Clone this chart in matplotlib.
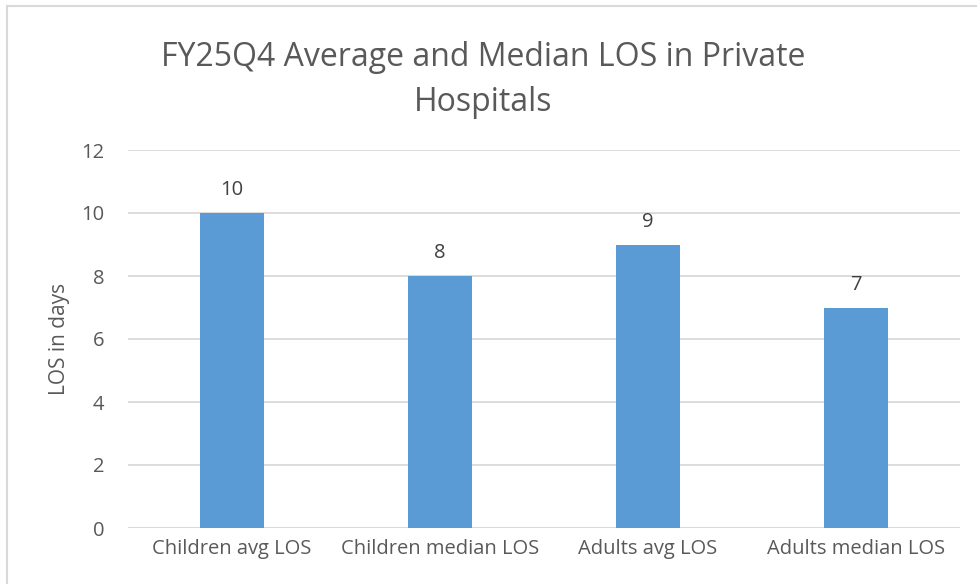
import matplotlib
matplotlib.use("Agg")
import matplotlib.pyplot as plt
from matplotlib.lines import Line2D

categories = ["Children avg LOS", "Children median LOS", "Adults avg LOS", "Adults median LOS"]
values = [10, 8, 9, 7]
yticks = [0, 2, 4, 6, 8, 10, 12]

plt.rcParams['font.family'] = ['Open Sans', 'DejaVu Sans']
txt = '#595959'
grid = '#D9D9D9'

fig = plt.figure(figsize=(9.77, 5.84), dpi=100)
ax = fig.add_axes([128/977, 1-528/584, (960-128)/977, (528-150)/584])

x = list(range(len(categories)))
bars = ax.bar(x, values, width=0.31, color='#5B9BD5', zorder=3)
for xi, v in zip(x, values):
    ax.text(xi, v + 0.4, str(v), ha='center', va='bottom', fontsize=14.5, color='#404040')

ax.set_xlim(-0.5, 3.5)
ax.set_ylim(0, 12)
ax.set_yticks(yticks)
ax.set_xticks(x)
ax.set_xticklabels(categories)
ax.tick_params(axis='both', length=0, labelsize=14.5, labelcolor=txt)
ax.tick_params(axis='y', pad=17)
ax.tick_params(axis='x', pad=8)
ax.yaxis.grid(True, color=grid, linewidth=1.3, zorder=0)
for s in ax.spines.values():
    s.set_visible(False)
ax.axhline(0, color=grid, linewidth=1.3, zorder=2)
ax.set_ylabel("LOS in days", fontsize=15, color=txt, labelpad=8)

fig.text(483/977, 1-80/584, "FY25Q4 Average and Median LOS in Private\nHospitals",
         ha='center', va='center', fontsize=23, color=txt, linespacing=1.45)

fig.add_artist(Line2D([7/977, 7/977], [0, 1-6/584], color=grid, linewidth=1.5))
fig.add_artist(Line2D([7/977, 1], [1-6/584, 1-6/584], color=grid, linewidth=1.5))

fig.savefig("out.png", dpi=100)
